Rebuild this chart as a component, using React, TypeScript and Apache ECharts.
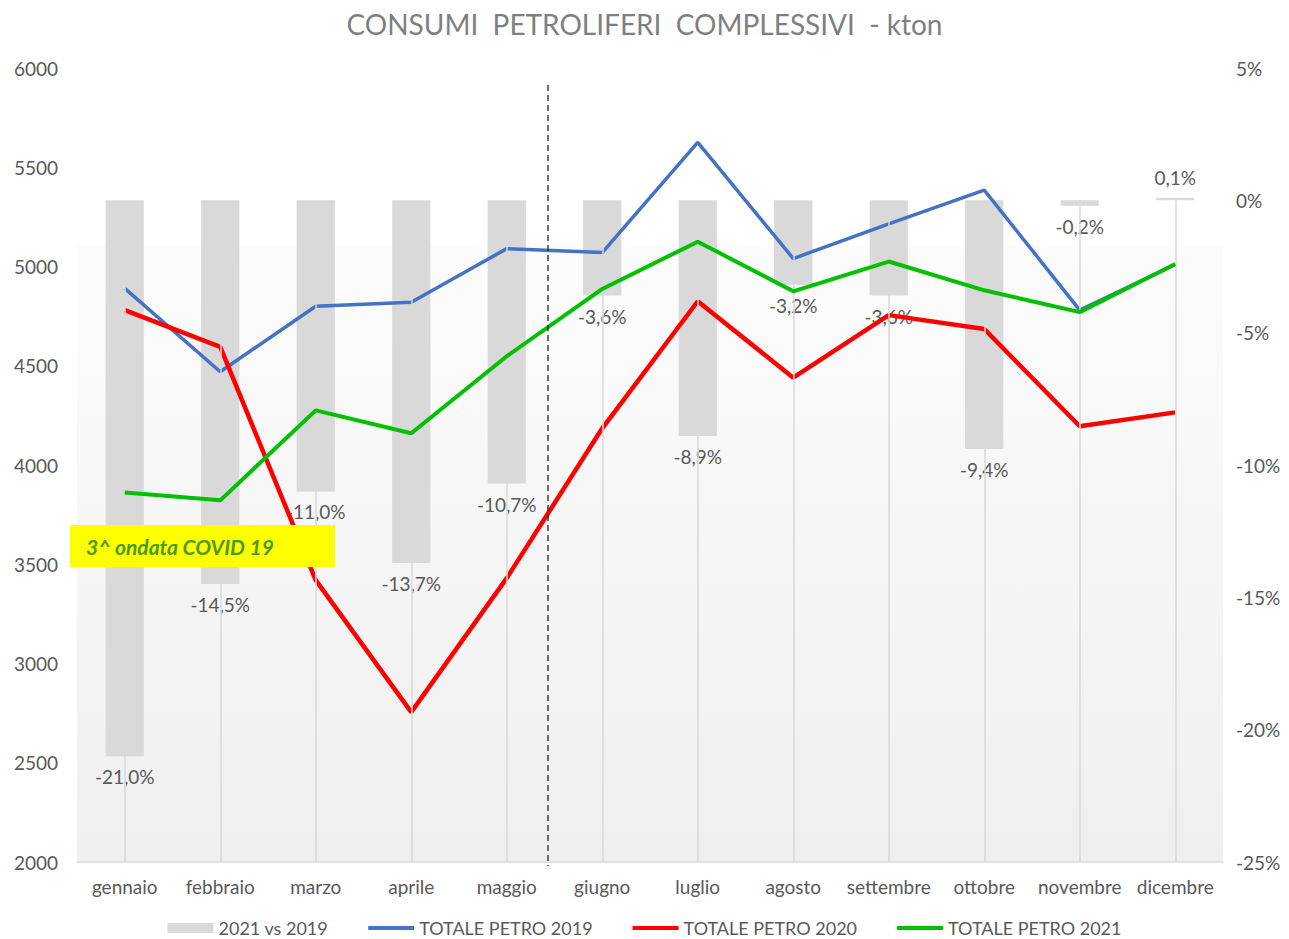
import React, { useEffect, useRef } from 'react';
import * as echarts from 'echarts';

const months = ['gennaio', 'febbraio', 'marzo', 'aprile', 'maggio', 'giugno', 'luglio', 'agosto', 'settembre', 'ottobre', 'novembre', 'dicembre'];
const diff2021vs2019 = [-21.0, -14.5, -11.0, -13.7, -10.7, -3.6, -8.9, -3.2, -3.6, -9.4, -0.2, 0.1];
const petro2019 = [4890, 4470, 4800, 4820, 5090, 5070, 5625, 5040, 5215, 5385, 4780, 5010];
const petro2020 = [4780, 4595, 3420, 2755, 3430, 4185, 4825, 4440, 4755, 4685, 4195, 4265];
const petro2021 = [3862, 3822, 4275, 4160, 4548, 4887, 5125, 4875, 5025, 4880, 4770, 5013];
const leftAxis = { min: 2000, max: 6000, interval: 500 };
const rightAxis = { min: -25, max: 5, interval: 5 };
const seriesNames = ['2021 vs 2019', 'TOTALE PETRO 2019', 'TOTALE PETRO 2020', 'TOTALE PETRO 2021'];
const titleText = 'CONSUMI  PETROLIFERI  COMPLESSIVI  - kton';
const noteText = '3^ ondata COVID 19';

const FONT = 'Lato, "Open Sans", sans-serif';
const GREY_TEXT = '#595959';
const LINE_ICON = 'path://M0,0 M0,4 L46,4 L46,8 L0,8 Z M46,12';
const BAR_ICON = 'path://M0,1 L46,1 L46,11 L0,11 Z M0,0 M46,12';

export default function App() {
  const ref = useRef<HTMLDivElement>(null);
  useEffect(() => {
    if (!ref.current) return;
    const chart = echarts.init(ref.current, null, { renderer: 'svg' });
    const fmtPct = (v: number) => v.toFixed(1).replace('.', ',') + '%';
    chart.setOption({
      animation: false,
      backgroundColor: '#ffffff',
      textStyle: { fontFamily: FONT },
      title: {
        text: titleText,
        left: 'center',
        top: 5,
        textStyle: { fontFamily: FONT, fontSize: 28, fontWeight: 'normal', color: '#7f7f7f' },
      },
      grid: {
        left: 77,
        right: 66,
        top: 68,
        bottom: 77,
        show: true,
        borderWidth: 0,
        backgroundColor: new echarts.graphic.LinearGradient(0, 0, 0, 1, [
          { offset: 0, color: '#ffffff' },
          { offset: 0.222, color: '#ffffff' },
          { offset: 0.224, color: '#fcfcfc' },
          { offset: 1, color: '#efefef' },
        ]),
      },
      legend: {
        top: 913,
        left: 'center',
        itemWidth: 46,
        itemHeight: 12,
        itemGap: 40,
        textStyle: { fontFamily: FONT, fontSize: 18, color: GREY_TEXT, lineHeight: 20 },
        data: [
          { name: seriesNames[0], icon: BAR_ICON },
          { name: seriesNames[1], icon: LINE_ICON },
          { name: seriesNames[2], icon: LINE_ICON },
          { name: seriesNames[3], icon: LINE_ICON },
        ],
      },
      xAxis: {
        type: 'category',
        data: months,
        boundaryGap: true,
        axisLine: { onZero: false, lineStyle: { color: '#d9d9d9', width: 1.5 } },
        axisTick: { show: false },
        axisLabel: { color: GREY_TEXT, fontSize: 19, fontFamily: FONT, margin: 15, interval: 0 },
        splitLine: { show: false },
      },
      yAxis: [
        {
          type: 'value',
          min: leftAxis.min,
          max: leftAxis.max,
          interval: leftAxis.interval,
          axisLine: { show: false },
          axisTick: { show: false },
          splitLine: { show: false },
          axisLabel: {
            color: GREY_TEXT,
            fontSize: 19,
            fontFamily: FONT,
            margin: 19,
            formatter: (v: number) => String(v),
          },
        },
        {
          type: 'value',
          min: rightAxis.min,
          max: rightAxis.max,
          interval: rightAxis.interval,
          position: 'right',
          axisLine: { show: false },
          axisTick: { show: false },
          splitLine: { show: false },
          axisLabel: {
            color: GREY_TEXT,
            fontSize: 19,
            fontFamily: FONT,
            margin: 13,
            formatter: (v: number) => Math.round(v) + '%',
          },
        },
      ],
      series: [
        {
          name: seriesNames[0],
          type: 'bar',
          yAxisIndex: 1,
          barWidth: '40%',
          z: 2,
          itemStyle: { color: '#d9d9d9' },
          data: diff2021vs2019.map((v) => ({
            value: v,
            label: { position: v >= 0 ? 'top' : 'bottom' },
          })),
          label: {
            show: true,
            distance: 11,
            color: GREY_TEXT,
            fontSize: 19,
            fontFamily: FONT,
            formatter: (p: any) => fmtPct(p.value),
          },
          markLine: {
            silent: true,
            symbol: 'none',
            label: { show: false },
            lineStyle: { color: '#d9d9d9', type: 'solid', width: 1.5 },
            data: months.map((m) => [{ coord: [m, 0] }, { coord: [m, rightAxis.min] }]),
          },
        },
        {
          name: seriesNames[1],
          type: 'line',
          z: 3,
          symbol: 'none',
          lineStyle: { color: '#4472c4', width: 3.5 },
          itemStyle: { color: '#4472c4' },
          data: petro2019,
        },
        {
          name: seriesNames[2],
          type: 'line',
          z: 4,
          symbol: 'none',
          lineStyle: { color: '#ff0000', width: 4.5 },
          itemStyle: { color: '#ff0000' },
          data: petro2020,
        },
        {
          name: seriesNames[3],
          type: 'line',
          z: 5,
          symbol: 'none',
          lineStyle: { color: '#00c000', width: 4 },
          itemStyle: { color: '#00c000' },
          data: petro2021,
        },
      ],
      graphic: [
        {
          type: 'line',
          z: 50,
          silent: true,
          shape: { x1: 548, y1: 85, x2: 548, y2: 866 },
          style: { stroke: '#222222', lineWidth: 1.3, lineDash: [6, 4] },
        },
        {
          type: 'rect',
          z: 100,
          silent: true,
          shape: { x: 70, y: 525, width: 265, height: 42 },
          style: { fill: '#ffff00' },
        },
        {
          type: 'text',
          z: 101,
          silent: true,
          x: 86,
          y: 546,
          style: {
            text: noteText,
            fill: '#4b9a1c',
            font: 'italic bold 21px ' + FONT,
            verticalAlign: 'middle',
          },
        },
      ],
    });
    return () => chart.dispose();
  }, []);
  return <div ref={ref} style={{ width: 1289, height: 939, position: 'absolute', left: 0, top: 0 }} />;
}
